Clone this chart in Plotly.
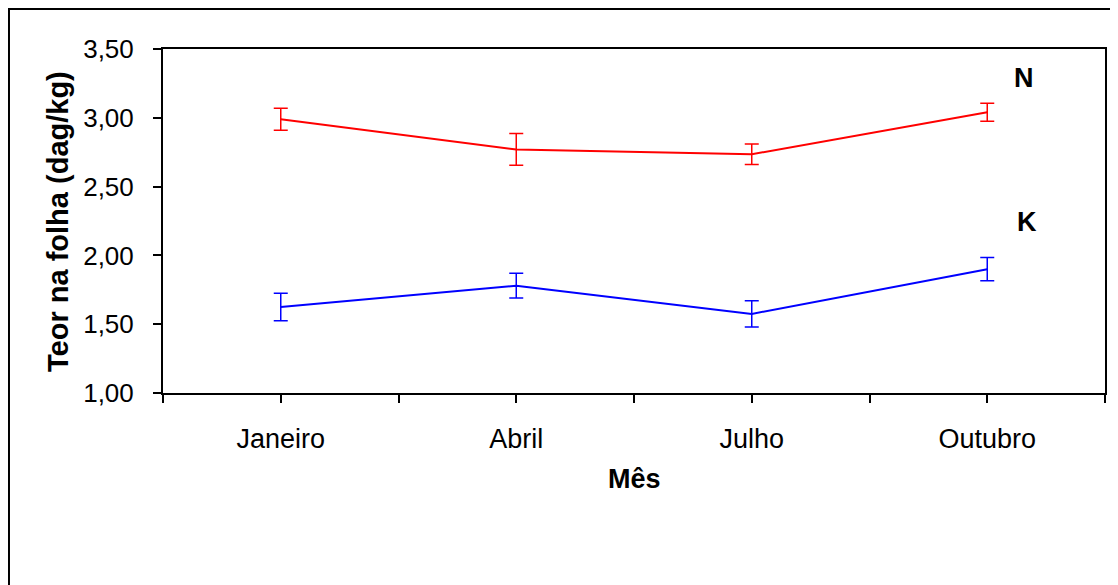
import plotly.graph_objects as go

meses = ["Janeiro", "Abril", "Julho", "Outubro"]
n_vals = [2.99, 2.77, 2.735, 3.04]
n_err = [0.08, 0.115, 0.075, 0.065]
k_vals = [1.625, 1.78, 1.575, 1.90]
k_err = [0.10, 0.09, 0.095, 0.085]
y_ticks = [1.0, 1.5, 2.0, 2.5, 3.0, 3.5]

FONT = "Liberation Sans, Arial, sans-serif"
xpos = list(range(len(meses)))

fig = go.Figure()
fig.add_trace(go.Scatter(
    x=xpos, y=n_vals, mode="lines", name="N",
    line=dict(color="#FF0000", width=2),
    error_y=dict(type="data", array=n_err, visible=True, color="#FF0000", thickness=1.5, width=7),
))
fig.add_trace(go.Scatter(
    x=xpos, y=k_vals, mode="lines", name="K",
    line=dict(color="#0000FF", width=2),
    error_y=dict(type="data", array=k_err, visible=True, color="#0000FF", thickness=1.5, width=7),
))

# ticks at category centres and boundaries
tickvals = []
ticktext = []
for i, m in enumerate(meses):
    tickvals += [i - 0.5, i]
    ticktext += ["", m]
tickvals.append(len(meses) - 0.5)
ticktext.append("")

fig.update_layout(
    width=1118, height=585,
    margin=dict(l=155, r=21, t=41, b=200),
    paper_bgcolor="white", plot_bgcolor="white",
    showlegend=False,
    separators=",.",
    font=dict(family=FONT, size=26, color="black"),
    xaxis=dict(
        range=[-0.5, len(meses) - 0.5],
        tickmode="array", tickvals=tickvals, ticktext=ticktext,
        ticks="outside", ticklen=8, tickwidth=2, tickcolor="black",
        showline=True, linecolor="black", linewidth=2, mirror=True,
        showgrid=False, zeroline=False,
        tickfont=dict(size=27, family=FONT),
        ticklabelstandoff=13,
    ),
    yaxis=dict(
        range=[1.0, 3.5],
        tickmode="array", tickvals=y_ticks, tickformat=".2f",
        ticks="outside", ticklen=8, tickwidth=2, tickcolor="black",
        showline=True, linecolor="black", linewidth=2, mirror=True,
        showgrid=False, zeroline=False,
        tickfont=dict(size=26, family=FONT),
        ticklabelstandoff=14,
    ),
    annotations=[
        dict(text="<b>Teor na folha (dag/kg)</b>", xref="paper", yref="paper",
             x=-0.1115, y=0.5, xanchor="center", yanchor="middle", textangle=-90,
             showarrow=False, font=dict(size=29, family=FONT)),
        dict(text="<b>Mês</b>", xref="paper", yref="paper",
             x=0.5, y=-0.25, xanchor="center", yanchor="middle",
             showarrow=False, font=dict(size=27, family=FONT)),
        dict(text="<b>N</b>", x=3.157, y=3.29, xanchor="center", yanchor="middle",
             showarrow=False, font=dict(size=27, family=FONT)),
        dict(text="<b>K</b>", x=3.17, y=2.243, xanchor="center", yanchor="middle",
             showarrow=False, font=dict(size=27, family=FONT)),
    ],
    shapes=[
        dict(type="rect", xref="paper", yref="paper",
             x0=-0.1635, y0=-0.65, x1=1.05, y1=1.1163,
             line=dict(color="black", width=2), fillcolor="rgba(0,0,0,0)", layer="below"),
    ],
)

fig.write_html("out.html")
